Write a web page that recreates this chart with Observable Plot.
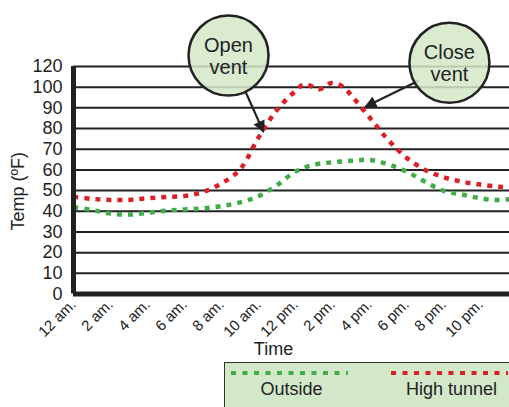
<!DOCTYPE html>
<html>
<head>
<meta charset="utf-8">
<script src="https://cdn.jsdelivr.net/npm/d3@7"></script>
<script src="https://cdn.jsdelivr.net/npm/@observablehq/plot@0.6"></script>
<style>
  body { margin: 0; background: #fff; font-family: "Liberation Sans", Arial, Helvetica, sans-serif; }
  #wrap { position: relative; width: 509px; height: 407px; overflow: hidden; }
  #legend { position: absolute; left: 224px; top: 362px; width: 300px; height: 60px;
    background: #d3e8c8; border: 1.5px solid #333; box-sizing: border-box; }
  #legend svg { position: absolute; left: 0; top: 0; }
</style>
</head>
<body>
<div id="wrap"><div id="chart"></div><div id="legend"></div></div>
<script>
// ---- data ----
const seriesNames = ["Outside", "High tunnel"];
const seriesColors = ["#3fae49", "#dc1f26"];
const outsideHours = [0,1,2,3,4,5,6,7,8,9,10,11,12,13,14,15,16,17,18,19,20,21,22,23,24];
const outsideTemps = [42,40.6,38.9,38.4,39.3,40.3,40.9,41.4,42.5,44.3,47.3,52.6,59.2,62.5,63.7,64.4,64.8,62.7,59.2,54.3,49.9,48.1,46.3,45.4,46.5];
const tunnelHours = [0,1,2,3,4,5,6,7,8,9,10,11,12,12.5,13.3,13.95,14.55,15,16,17,18,19,20,21,22,23,24];
const tunnelTemps = [47,46,45.5,45.5,46.3,46.9,47.4,49.3,53.5,60.2,75.6,89,98.2,101.5,99,102,100.3,96.2,85.4,74.6,65.9,60,56.5,54.3,52.9,51.9,51.5];
const xTicks = [0,2,4,6,8,10,12,14,16,18,20,22];
const xTickLabels = ["12 am.","2 am.","4 am.","6 am.","8 am.","10 am.","12 pm.","2 pm.","4 pm.","6 pm.","8 pm.","10 pm."];
const yTicks = [0,10,20,30,40,50,60,70,80,90,100,110];
const yTickLabels = ["0","10","20","30","40","50","60","70","80","90","100","120"];
const calloutLabels = ["Open\nvent", "Close\nvent"];
const calloutHour = [8.38, 20.32];
const calloutTemp = [115.3, 111.8];
const arrowFromHour = [9.3, 18.65];
const arrowFromTemp = [97.8, 103.1];
const arrowToHour = [10.27, 15.78];
const arrowToTemp = [78.4, 90.5];

const rows = [
  ...outsideHours.map((h, i) => ({series: seriesNames[0], hour: h, temp: outsideTemps[i]})),
  ...tunnelHours.map((h, i) => ({series: seriesNames[1], hour: h, temp: tunnelTemps[i]}))
];
const callouts = calloutLabels.map((t, i) => ({text: t, hour: calloutHour[i], temp: calloutTemp[i],
  fh: arrowFromHour[i], ft: arrowFromTemp[i], th: arrowToHour[i], tt: arrowToTemp[i]}));

function arrowHead(color, context) {
  const doc = context && context.document ? context.document : document;
  const m = doc.createElementNS("http://www.w3.org/2000/svg", "marker");
  m.setAttribute("viewBox", "0 0 10 10");
  m.setAttribute("refX", "9");
  m.setAttribute("refY", "5");
  m.setAttribute("markerWidth", "6.5");
  m.setAttribute("markerHeight", "5.5");
  m.setAttribute("orient", "auto");
  const p = doc.createElementNS("http://www.w3.org/2000/svg", "path");
  p.setAttribute("d", "M0,0L10,5L0,10Z");
  p.setAttribute("fill", color);
  p.setAttribute("stroke", "none");
  m.appendChild(p);
  return m;
}

const W = 509, H = 360;
const chart = Plot.plot({
  width: W,
  height: H,
  marginLeft: 73,
  marginRight: 0,
  marginTop: 66,
  marginBottom: H - 293.5,
  style: {fontFamily: '"Liberation Sans", Arial, Helvetica, sans-serif', color: "#222", background: "#fff"},
  x: {domain: [0, (W - 73) / 18.5]},
  y: {domain: [0, 110]},
  color: {domain: seriesNames, range: seriesColors},
  marks: [
    Plot.ruleY(yTicks.filter(d => d > 0), {stroke: "#222", strokeWidth: 2, strokeOpacity: 1}),
    Plot.line(rows, {x: "hour", y: "temp", z: "series", stroke: "series", strokeWidth: 4.5,
      strokeDasharray: "5,6", curve: "catmull-rom", strokeLinecap: "butt"}),
    Plot.ruleY([0], {stroke: "#222", strokeWidth: 5}),
    Plot.ruleX([0], {stroke: "#222", strokeWidth: 5, y1: 0, y2: 110}),
    Plot.axisY({ticks: yTicks, tickFormat: (d, i) => yTickLabels[i], tickSize: 0, tickPadding: 11,
      fontSize: 18, label: null}),
    Plot.axisX({ticks: xTicks, tickFormat: (d, i) => xTickLabels[i], tickSize: 0, tickPadding: 8,
      tickRotate: -45, fontSize: 15, label: null}),
    Plot.text(["Temp (ºF)"], {frameAnchor: "left", textAnchor: "middle", dx: -55, dy: 11, rotate: -90,
      fontSize: 18, fill: "#222"}),
    Plot.text(["Time"], {frameAnchor: "bottom", dx: 273 - (73 + 509) / 2, dy: 61, fontSize: 18, fill: "#222"}),
    Plot.link(callouts, {x1: "fh", y1: "ft", x2: "th", y2: "tt", stroke: "#222", strokeWidth: 2.2,
      markerEnd: arrowHead}),
    Plot.dot(callouts, {x: "hour", y: "temp", r: 40, fill: "#d3e8c8", fillOpacity: 0.85,
      stroke: "#222", strokeWidth: 2.5}),
    Plot.text(callouts, {x: "hour", y: "temp", text: "text", fontSize: 20, lineHeight: 1.1, fill: "#222"})
  ]
});
document.getElementById("chart").appendChild(chart);

// legend
const leg = d3.select("#legend").append("svg").attr("width", 300).attr("height", 60);
const legX = [[6, 123], [166, 283]];
seriesNames.forEach((name, i) => {
  leg.append("line").attr("x1", legX[i][0]).attr("x2", legX[i][1]).attr("y1", 10).attr("y2", 10)
    .attr("stroke", seriesColors[i]).attr("stroke-width", 4).attr("stroke-dasharray", "5,6.5");
  leg.append("text").attr("x", (legX[i][0] + legX[i][1]) / 2 + 2).attr("y", 32)
    .attr("text-anchor", "middle").attr("font-size", 18).attr("fill", "#222").text(name);
});
</script>
</body>
</html>
